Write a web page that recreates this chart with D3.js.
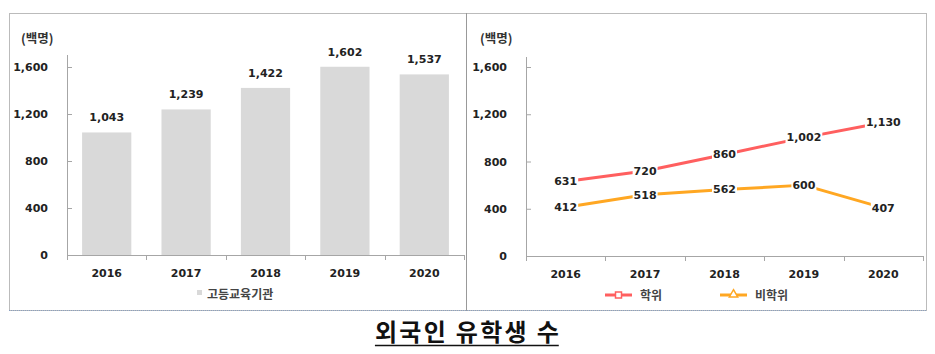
<!DOCTYPE html>
<html>
<head>
<meta charset="utf-8">
<script src="https://cdn.jsdelivr.net/npm/d3@7/dist/d3.min.js"></script>
<style>
  body { margin: 0; background: #fff; }
  svg { display: block; }
</style>
</head>
<body>
<script>
// data
const years = ["2016", "2017", "2018", "2019", "2020"];
const institutions = [1043, 1239, 1422, 1602, 1537];
const degree = [631, 720, 860, 1002, 1130];
const nonDegree = [412, 518, 562, 600, 407];
const yTicks = [0, 400, 800, 1200, 1600];

const width = 935, height = 354;
const numFont = "'DejaVu Sans', Verdana, sans-serif";
const korFont = "'Noto Sans CJK KR', sans-serif";
const fmt = d3.format(",");

const svg = d3.select("body").append("svg")
    .attr("width", width)
    .attr("height", height);

// panel borders
svg.append("rect").attr("x", 9.5).attr("y", 13.5).attr("width", 457).attr("height", 297)
    .attr("fill", "none").attr("stroke", "#777").attr("stroke-dasharray", "1,1");
svg.append("rect").attr("x", 466.5).attr("y", 13.5).attr("width", 460).attr("height", 297)
    .attr("fill", "none").attr("stroke", "#777").attr("stroke-dasharray", "1,1");
svg.append("line").attr("x1", 9).attr("x2", 927).attr("y1", 310.5).attr("y2", 310.5)
    .attr("stroke", "#8aa0c0").attr("stroke-dasharray", "1,1");

function drawAxes(g, x, y, left, right, top, bottom) {
    // y axis with inward ticks
    const ya = g.append("g").attr("transform", `translate(${left},0)`)
        .call(d3.axisLeft(y).tickValues(yTicks).tickFormat(fmt).tickSize(-5).tickPadding(19));
    ya.select(".domain").remove();
    ya.selectAll("line").attr("stroke", "#a6a6a6");
    ya.selectAll("text").attr("font-family", numFont).attr("font-weight", "bold")
        .attr("font-size", 11).attr("fill", "#222");
    g.append("line").attr("x1", left + 0.5).attr("x2", left + 0.5).attr("y1", top).attr("y2", bottom)
        .attr("stroke", "#a6a6a6");

    // x axis
    const xa = g.append("g").attr("transform", `translate(0,${bottom})`)
        .call(d3.axisBottom(x).tickSize(0).tickPadding(14));
    xa.select(".domain").remove();
    xa.selectAll("text").attr("font-family", numFont).attr("font-weight", "bold")
        .attr("font-size", 11).attr("fill", "#222");
    g.append("line").attr("x1", left).attr("x2", right).attr("y1", bottom + 0.5).attr("y2", bottom + 0.5)
        .attr("stroke", "#a6a6a6");
    // category boundaries
    const half = (x.step() - x.bandwidth()) / 2;
    const edges = years.map(d => x(d) - half).concat([x(years[years.length - 1]) - half + x.step()]);
    g.selectAll(".xtick").data(edges).join("line")
        .attr("class", "xtick")
        .attr("x1", d => Math.round(d) + 0.5).attr("x2", d => Math.round(d) + 0.5)
        .attr("y1", bottom).attr("y2", bottom + 5)
        .attr("stroke", "#a6a6a6");
}

// ---------- left: bar chart ----------
const L = svg.append("g");
const x1 = d3.scaleBand().domain(years).range([67, 464]).paddingInner(0.38).paddingOuter(0.19);
const y1 = d3.scaleLinear().domain([0, 1600]).range([255, 67]);

L.selectAll(".bar").data(institutions).join("rect")
    .attr("class", "bar")
    .attr("x", (d, i) => x1(years[i]))
    .attr("width", x1.bandwidth())
    .attr("y", d => y1(d))
    .attr("height", d => y1(0) - y1(d))
    .attr("fill", "#d9d9d9");

L.selectAll(".val").data(institutions).join("text")
    .attr("class", "val")
    .attr("x", (d, i) => x1(years[i]) + x1.bandwidth() / 2)
    .attr("y", d => y1(d) - 11)
    .attr("text-anchor", "middle")
    .attr("font-family", numFont).attr("font-weight", "bold").attr("font-size", 11)
    .attr("fill", "#222")
    .text(d => fmt(d));

drawAxes(L, x1, y1, 67, 465, 55, 255);

L.append("text").attr("x", 21).attr("y", 43)
    .attr("font-family", korFont).attr("font-weight", "bold").attr("font-size", 12.5)
    .attr("fill", "#333").text("(백명)");

L.append("rect").attr("x", 197).attr("y", 290).attr("width", 5).attr("height", 5).attr("fill", "#d9d9d9");
L.append("text").attr("x", 207).attr("y", 299)
    .attr("font-family", korFont).attr("font-weight", "bold").attr("font-size", 12)
    .attr("fill", "#444").text("고등교육기관");

// ---------- right: line chart ----------
const R = svg.append("g");
const x2 = d3.scaleBand().domain(years).range([526, 923]);
const y2 = d3.scaleLinear().domain([0, 1600]).range([256, 67]);
const cx = d => x2(d) + x2.bandwidth() / 2;

drawAxes(R, x2, y2, 526, 923, 57, 256);

R.append("text").attr("x", 480).attr("y", 43)
    .attr("font-family", korFont).attr("font-weight", "bold").attr("font-size", 12.5)
    .attr("fill", "#333").text("(백명)");

const series = [
    { name: "학위", values: degree, color: "#ff5f5f", marker: "square" },
    { name: "비학위", values: nonDegree, color: "#ffa722", marker: "triangle" }
];

const line = d3.line().x((d, i) => cx(years[i])).y(d => y2(d));

series.forEach(s => {
    R.append("path").datum(s.values)
        .attr("d", line)
        .attr("fill", "none")
        .attr("stroke", s.color)
        .attr("stroke-width", 3)
        .attr("stroke-linejoin", "round");
});

series.forEach(s => {
    s.values.forEach((v, i) => {
        const g = R.append("g").attr("transform", `translate(${cx(years[i])},${y2(v)})`);
        const bg = g.append("rect").attr("fill", "#fff");
        const t = g.append("text").attr("text-anchor", "middle").attr("dy", "0.35em")
            .attr("font-family", numFont).attr("font-weight", "bold").attr("font-size", 11)
            .attr("fill", "#222").text(fmt(v));
        const w = t.node().getComputedTextLength();
        bg.attr("x", -w / 2 - 1).attr("y", -7).attr("width", w + 2).attr("height", 14);
    });
});

// legend
const legX = [605, 720];
series.forEach((s, k) => {
    const g = R.append("g").attr("transform", `translate(${legX[k]},295)`);
    g.append("line").attr("x1", 0).attr("x2", 27).attr("stroke", s.color).attr("stroke-width", 3);
    if (s.marker === "square") {
        g.append("rect").attr("x", 10.5).attr("y", -3).attr("width", 6).attr("height", 6)
            .attr("fill", "#fff").attr("stroke", s.color).attr("stroke-width", 1.5);
    } else {
        g.append("path").attr("d", d3.symbol(d3.symbolTriangle, 30)())
            .attr("transform", "translate(13.5,-0.5)")
            .attr("fill", "#fff").attr("stroke", s.color).attr("stroke-width", 1.5);
    }
    g.append("text").attr("x", 35).attr("y", 4.5)
        .attr("font-family", korFont).attr("font-weight", "bold").attr("font-size", 12)
        .attr("fill", "#444").text(s.name);
});

// title
const title = svg.append("text").attr("x", 468).attr("y", 341)
    .attr("text-anchor", "middle")
    .attr("font-family", korFont).attr("font-weight", "bold").attr("font-size", 24)
    .attr("letter-spacing", 2.3)
    .attr("fill", "#111").text("외국인 유학생 수");
const bb = title.node().getBBox();
svg.append("line").attr("x1", bb.x).attr("x2", bb.x + bb.width - 2.3)
    .attr("y1", 345.5).attr("y2", 345.5).attr("stroke", "#111").attr("stroke-width", 1.5);
</script>
</body>
</html>
